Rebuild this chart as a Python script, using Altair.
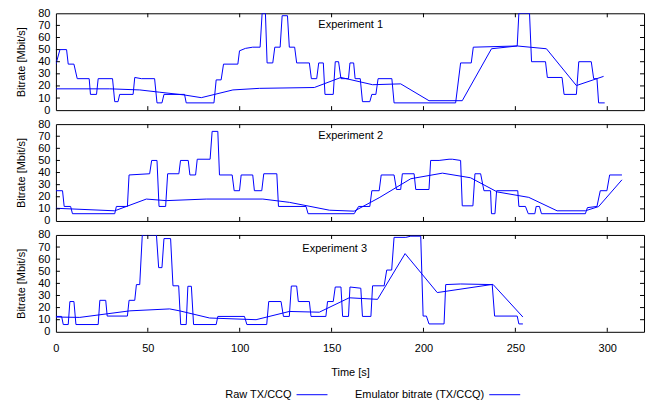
import altair as alt
import pandas as pd

FONT = "Liberation Sans"
BLUE = "#0000ff"
SERIES = ["Raw TX/CCQ", "Emulator bitrate (TX/CCQ)"]
X_TICKS = [0, 50, 100, 150, 200, 250, 300]
Y_TICKS = [0, 10, 20, 30, 40, 50, 60, 70, 80]
X_DOMAIN = [0, 320]
Y_DOMAIN = [0, 80]
W, H = 589, 97

EXPERIMENTS = ["Experiment 1", "Experiment 2", "Experiment 3"]
LABEL_T = [142.8, 142.8, 134.1]
LABEL_V = [70.5, 70.5, 68.0]

# ---- Experiment 1 ----
exp1_raw_t = [0, 2.2, 5.8, 6.7, 9.8, 11.6, 18.1, 18.8, 22.1, 23, 30.8, 32, 33.8, 34.7, 42, 42.9, 46.5, 53.7,
              55, 57.7, 58.8, 70, 70.9, 86, 87.2, 89.9, 91.2, 99, 99.9, 103.1, 107.1, 111.1, 112.2, 114,
              114.9, 118, 119.1, 122, 123.1, 126, 127, 129.9, 131, 137.9, 139, 141.9, 143, 145.5, 146.4,
              150.9, 152, 153.8, 155.1, 159.2, 160, 162, 162.8, 165.6, 166.8, 170.8, 171.9, 174.1, 175.3,
              182.8, 184, 217.5, 220.2, 226, 227.1, 251, 251.9, 257.7, 258.8, 266.4, 267.4, 275.4, 276.5,
              283.2, 284.5, 291.3, 292.6, 294.4, 295.3, 298.6]
exp1_raw_v = [38, 50, 50, 38, 38, 26, 26, 13, 13, 26, 26, 7, 7, 13, 13, 27, 26, 26,
              6, 6, 13, 13, 6, 6, 25, 25, 38, 38, 49, 51, 52, 52, 80, 80,
              39, 39, 52, 52, 78, 78, 52, 52, 39, 39, 26, 26, 39, 39, 13,
              13, 40, 40, 26, 26, 39, 39, 26, 26, 7, 7, 13, 13, 26,
              26, 6, 6, 39, 39, 52, 53, 80, 80, 40, 40, 27, 27, 13,
              13, 40, 40, 26, 26, 6, 6]
exp1_emu_t = [0, 29.3, 45.6, 56.5, 70, 79.1, 96.3, 110.7, 140.6, 155.1, 172.3, 187.6, 203, 221.1, 237,
              251, 266.9, 283.2, 298]
exp1_emu_v = [17.6, 17.6, 16.7, 14.8, 12.5, 10.3, 16.7, 18, 18.7, 27, 21, 21.7, 7.8, 7.8, 50.7,
              53, 50.7, 20.3, 27.9]

# ---- Experiment 2 ----
exp2_raw_t = [0, 3.6, 4.5, 8, 9, 32, 32.9, 38.9, 39.8, 51, 52.1, 55, 56.1, 59.7, 60.8, 66.9, 67.8, 72,
              72.9, 76, 76.9, 83.9, 85, 88.1, 89, 95.9, 97, 99.9, 100.8, 107.1, 108, 112, 113.1, 120.2,
              121.1, 136.1, 137.2, 162.3, 164.7, 170.8, 171.9, 175.9, 177, 184, 185.3, 187.6, 188.5,
              194.9, 195.8, 203, 203.9, 208.5, 213.9, 215.7, 220.2, 221.1, 226.9, 228, 231.1, 232.9,
              236.5, 237, 238.9, 239.8, 251.3, 251.9, 255.5, 257, 260.6, 261.3, 263.1, 264.2, 288.1,
              289.2, 294.4, 296.2, 299.8, 301.3, 308]
exp2_raw_v = [25, 25, 12, 12, 6, 6, 12, 12, 38, 39, 50, 50, 12, 12, 39, 39, 50, 50,
              38, 38, 51, 51, 74, 74, 38, 38, 25, 25, 38, 38, 25, 25, 39, 39,
              12, 12, 6, 6, 12, 12, 25, 25, 38, 38, 26, 26, 39,
              39, 26, 26, 50, 50, 51, 51, 50, 12.5, 12.5, 39, 39, 25,
              25, 6, 6, 25, 25, 12, 12, 6, 6, 12, 12, 6, 6,
              11, 12, 25, 25, 38, 38]
exp2_emu_t = [0, 32, 49.2, 60, 81.8, 112.6, 127, 136.1, 148.8, 162.3, 175.9, 193.1, 210.3, 225.6,
              240.1, 257.3, 272.7, 288.1, 295.3, 308]
exp2_emu_v = [10.5, 8.4, 18.1, 16.8, 18.1, 18.1, 15.4, 12.7, 8.9, 8.1, 19.2, 34.9, 39.5, 35.7,
              24, 19.5, 8.4, 8.4, 11.9, 34]

# ---- Experiment 3 ----
exp3_raw_t = [0, 3.1, 4, 6.7, 7.6, 9.8, 10.9, 23, 23.9, 27.1, 27.9, 38.9, 39.8, 42.9, 43.8, 45.6, 47,
              54.7, 55.9, 57.7, 58.8, 62.4, 63.7, 66.8, 67.9, 70.9, 71.8, 73.7, 74.9, 87.2, 88.1, 102.6,
              103.9, 114.7, 115.8, 122.5, 123.8, 127, 128.1, 131, 131.9, 137.9, 138.8, 146.9, 147.8,
              150.9, 152, 155.1, 156, 159.2, 160, 165.9, 166.8, 171.4, 172.3, 178.6, 180, 182.7, 184,
              190.4, 193.1, 198.5, 199.8, 201.6, 203, 211.2, 212.1, 220.2, 237.4, 238.7, 251, 251.9,
              254.1]
exp3_raw_v = [12.7, 12.7, 6, 6, 25, 25, 6, 6, 26, 26, 13, 13, 26, 26, 39, 39, 80,
              80, 53, 53, 77, 77, 38, 38, 6, 6, 37.6, 37.6, 6, 6, 12.7, 12.7,
              6, 6, 25, 25, 12.7, 12.7, 37.8, 37.8, 25, 25, 12.7, 12.7, 25,
              25, 37, 37, 12.7, 12.7, 37, 36, 12.7, 12.7, 38, 38, 51, 51, 78,
              78, 79, 79, 13, 13, 6.5, 6.5, 39, 39.5, 39, 13, 13, 6.5,
              6.5]
exp3_emu_t = [0, 13, 40.2, 61.9, 67.3, 83.6, 108.9, 127, 143.3, 159.6, 175, 190, 207.5, 237.8, 254.1]
exp3_emu_v = [12.2, 11.9, 17.3, 18.9, 17.3, 11.4, 10, 16.8, 16.2, 28.1, 26.8, 64.6, 32.4, 39.2, 12.2]


def series_df(t, v, name):
    return pd.DataFrame({"t": t, "v": v, "i": list(range(len(t))), "series": name})


def panel(raw_t, raw_v, emu_t, emu_v, name, lt, lv, bottom):
    xscale = alt.Scale(domain=X_DOMAIN, nice=False, zero=False)
    yscale = alt.Scale(domain=Y_DOMAIN, nice=False)
    if bottom:
        xaxis = alt.Axis(values=X_TICKS, title="Time [s]", ticks=False, tickSize=0, domain=False,
                         grid=False, labelPadding=11, titlePadding=13, labelFlush=False, format="d",
                         labelFont=FONT, titleFont=FONT, labelFontSize=11, titleFontSize=11,
                         labelColor="black", titleColor="black", titleFontWeight="normal")
    else:
        xaxis = None
    yaxis = alt.Axis(values=Y_TICKS, title="Bitrate [Mbit/s]", ticks=False, tickSize=0, domain=False,
                     grid=False, labelPadding=6, titlePadding=11, format="d",
                     labelFont=FONT, titleFont=FONT, labelFontSize=11, titleFontSize=11,
                     labelColor="black", titleColor="black", titleFontWeight="normal")
    x = alt.X("t:Q", scale=xscale, axis=xaxis)
    y = alt.Y("v:Q", scale=yscale, axis=yaxis)

    raw = alt.Chart(series_df(raw_t, raw_v, SERIES[0])).mark_line(
        color=BLUE, strokeWidth=1, clip=True).encode(x=x, y=y, order="i:Q")
    emu = alt.Chart(series_df(emu_t, emu_v, SERIES[1])).mark_line(
        color=BLUE, strokeWidth=1, clip=True).encode(x=x, y=y, order="i:Q")

    xt = pd.DataFrame({"t": X_TICKS[1:]})
    yt = pd.DataFrame({"v": Y_TICKS[1:-1]})
    tb = alt.Chart(xt).mark_rule(color="black", strokeWidth=1).encode(
        x=x, y=alt.value(H), y2=alt.value(H - 4))
    tt = alt.Chart(xt).mark_rule(color="black", strokeWidth=1).encode(
        x=x, y=alt.value(0), y2=alt.value(4))
    tl = alt.Chart(yt).mark_rule(color="black", strokeWidth=1).encode(
        y=y, x=alt.value(0), x2=alt.value(4))
    tr = alt.Chart(yt).mark_rule(color="black", strokeWidth=1).encode(
        y=y, x=alt.value(W), x2=alt.value(W - 4))

    lab = alt.Chart(pd.DataFrame({"t": [lt], "v": [lv], "label": [name]})).mark_text(
        align="left", baseline="middle", font=FONT, fontSize=11, color="black").encode(
        x=x, y=y, text="label:N")

    return alt.layer(raw, emu, tb, tt, tl, tr, lab).properties(width=W, height=H)


p1 = panel(exp1_raw_t, exp1_raw_v, exp1_emu_t, exp1_emu_v, EXPERIMENTS[0], LABEL_T[0], LABEL_V[0], False)
p2 = panel(exp2_raw_t, exp2_raw_v, exp2_emu_t, exp2_emu_v, EXPERIMENTS[1], LABEL_T[1], LABEL_V[1], False)
p3 = panel(exp3_raw_t, exp3_raw_v, exp3_emu_t, exp3_emu_v, EXPERIMENTS[2], LABEL_T[2], LABEL_V[2], True)

# legend: label on the left, line sample on the right (gnuplot style)
LEG_H = 54
LEG_Y = 49
leg = pd.DataFrame({"series": SERIES})
lx = alt.X("series:N", scale=alt.Scale(type="point", domain=SERIES, range=[236, 429], padding=0), axis=None)
leg_text = alt.Chart(leg).mark_text(align="right", baseline="middle", font=FONT, fontSize=11,
                                    color="black").encode(x=lx, y=alt.value(LEG_Y), text="series:N")
leg_line = alt.Chart(leg).mark_rule(color=BLUE, strokeWidth=1, xOffset=5, x2Offset=36).encode(
    x=lx, x2=alt.X2("series:N"), y=alt.value(LEG_Y))
legend = alt.layer(leg_text, leg_line).properties(
    width=W, height=LEG_H, view=alt.ViewBackground(stroke="transparent", fill="transparent"))

chart = alt.vconcat(p1, p2, p3, legend, spacing=14, bounds="flush").properties(
    padding={"left": 15, "top": 6, "right": 10, "bottom": 4}
).configure_view(stroke="black", strokeWidth=1)

chart.save("out.html", embed_options={"renderer": "svg", "actions": False})
